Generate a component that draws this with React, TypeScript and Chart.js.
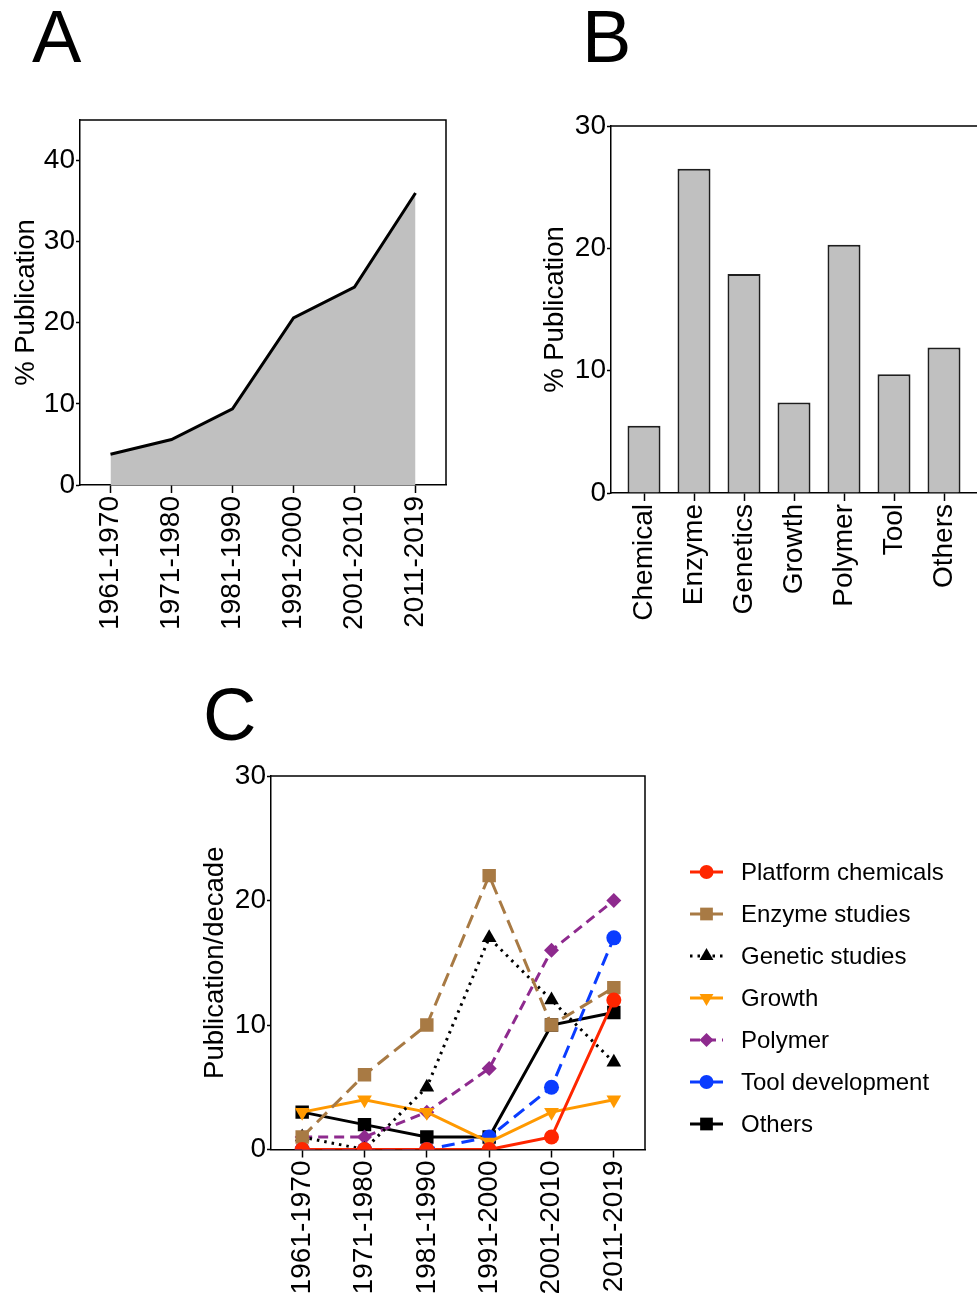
import React, { useEffect, useRef } from "react";
import { Chart, registerables } from "chart.js";

Chart.register(...registerables);

const FONT = "'Liberation Sans', Arial, Helvetica, sans-serif";

// Panel A: share of publications per decade (%)
const decades = ["1961-1970", "1971-1980", "1981-1990", "1991-2000", "2001-2010", "2011-2019"];
const sharePerDecade = [3.8, 5.6, 9.4, 20.6, 24.4, 36.0];

// Panel B: share of publications per topic (%)
const topics = ["Chemical", "Enzyme", "Genetics", "Growth", "Polymer", "Tool", "Others"];
const sharePerTopic = [5.5, 26.5, 17.9, 7.4, 20.3, 9.7, 11.9];

// Panel C: publications per decade, by topic
const platformChemicals = [0, 0, 0, 0, 1, 12];
const enzymeStudies = [1, 6, 10, 22, 10, 13];
const geneticStudies = [1, 0, 5, 17, 12, 7];
const growth = [3, 4, 3, 0.6, 3, 4];
const polymer = [1, 1, 3, 6.5, 16, 20];
const toolDevelopment = [0, 0, 0, 1, 5, 17];
const others = [3, 2, 1, 1, 10, 11];

const TICK_FONT = { size: 28, family: FONT };
const TITLE_FONT = { size: 27.5, family: FONT };

// Closes the plot area with a top and right edge.
const framePlugin = {
  id: "frame",
  afterDraw(chart: any) {
    const { ctx, chartArea } = chart;
    ctx.save();
    ctx.strokeStyle = "#000";
    ctx.lineWidth = 1.5;
    ctx.beginPath();
    ctx.moveTo(chartArea.left, chartArea.top);
    ctx.lineTo(chartArea.right, chartArea.top);
    ctx.lineTo(chartArea.right, chartArea.bottom);
    ctx.stroke();
    ctx.restore();
  },
};

function drawMarker(ctx: CanvasRenderingContext2D, style: string, x: number, y: number, r: number, rotation: number) {
  ctx.beginPath();
  if (style === "circle") {
    ctx.arc(x, y, r, 0, Math.PI * 2);
  } else if (style === "rect") {
    const s = r * Math.SQRT1_2;
    ctx.rect(x - s, y - s, 2 * s, 2 * s);
  } else if (style === "rectRot") {
    ctx.moveTo(x, y - r);
    ctx.lineTo(x + r, y);
    ctx.lineTo(x, y + r);
    ctx.lineTo(x - r, y);
    ctx.closePath();
  } else if (style === "triangle") {
    const dir = rotation === 180 ? -1 : 1;
    const w = r * Math.sin(Math.PI / 3);
    ctx.moveTo(x, y - dir * r);
    ctx.lineTo(x + w, y + dir * r * 0.5);
    ctx.lineTo(x - w, y + dir * r * 0.5);
    ctx.closePath();
  }
  ctx.fill();
}

// Legend with line samples that keep each series' dash pattern and marker.
const seriesLegendPlugin = {
  id: "seriesLegend",
  afterDraw(chart: any, _args: any, opts: any) {
    const { ctx } = chart;
    chart.data.datasets.forEach((ds: any, i: number) => {
      const cy = opts.y + i * opts.gap;
      ctx.save();
      ctx.strokeStyle = ds.borderColor;
      ctx.lineWidth = ds.borderWidth;
      ctx.lineCap = ds.borderCapStyle || "butt";
      ctx.setLineDash(ds.borderDash || []);
      ctx.beginPath();
      ctx.moveTo(opts.x, cy);
      ctx.lineTo(opts.x + opts.lineLength, cy);
      ctx.stroke();
      ctx.setLineDash([]);
      ctx.fillStyle = ds.pointBackgroundColor;
      drawMarker(ctx, ds.pointStyle, opts.x + opts.lineLength / 2, cy, ds.pointRadius - 0.5, ds.pointRotation || 0);
      ctx.fillStyle = "#000";
      ctx.font = `24px ${FONT}`;
      ctx.textBaseline = "middle";
      ctx.textAlign = "left";
      ctx.fillText(ds.label, opts.x + opts.textOffset, cy + 1);
      ctx.restore();
    });
  },
};

function valueAxis(title: string, max: number, width: number, titlePad: number) {
  return {
    min: 0,
    max,
    border: { display: true, color: "#000", width: 1.5 },
    grid: { drawOnChartArea: false, drawTicks: true, tickLength: 4, tickColor: "#000", tickWidth: 1.5 },
    ticks: { stepSize: 10, includeBounds: false, padding: 1, color: "#000", font: TICK_FONT },
    title: { display: true, text: title, color: "#000", font: TITLE_FONT, padding: { top: titlePad, bottom: 0 } },
    afterFit: (s: any) => {
      s.width = width;
    },
  };
}

function categoryAxisBase(height: number) {
  return {
    offset: true,
    border: { display: true, color: "#000", width: 1.5 },
    grid: { drawOnChartArea: false, drawTicks: true, tickLength: 8, tickColor: "#000", tickWidth: 1.5, offset: false },
    ticks: { autoSkip: false, minRotation: 90, maxRotation: 90, padding: 3, color: "#000", font: TICK_FONT },
    afterFit: (s: any) => {
      s.height = height;
    },
  };
}

const baseOptions = {
  responsive: false,
  animation: false as const,
  devicePixelRatio: 1,
  events: [] as any[],
};

function PanelA() {
  const ref = useRef<HTMLCanvasElement>(null);
  useEffect(() => {
    const chart = new Chart(ref.current!, {
      type: "line",
      data: {
        labels: decades,
        datasets: [
          {
            data: sharePerDecade,
            borderColor: "#000",
            borderWidth: 3,
            backgroundColor: "#c0c0c0",
            fill: "origin",
            pointRadius: 0,
            tension: 0,
          },
        ],
      },
      options: {
        ...baseOptions,
        layout: { padding: { top: 20, right: 24, left: 0, bottom: 0 } },
        plugins: { legend: { display: false }, tooltip: { enabled: false } },
        scales: {
          x: { type: "category", ...categoryAxisBase(155) },
          y: valueAxis("% Publication", 45, 80, 10),
        },
      },
      plugins: [framePlugin],
    } as any);
    return () => chart.destroy();
  }, []);
  return <canvas ref={ref} width={470} height={540} style={{ position: "absolute", left: 0, top: 100 }} />;
}

function PanelB() {
  const ref = useRef<HTMLCanvasElement>(null);
  useEffect(() => {
    const base: any = categoryAxisBase(147);
    const xAxis: any = {
      ...base,
      type: "linear",
      offset: false,
      min: -0.66,
      max: 6.7,
      ticks: { ...base.ticks, callback: (v: number) => topics[v] },
      afterBuildTicks: (s: any) => {
        s.ticks = topics.map((_, i) => ({ value: i }));
      },
    };
    const chart = new Chart(ref.current!, {
      type: "bar",
      data: {
        datasets: [
          {
            data: topics.map((_, i) => ({ x: i, y: sharePerTopic[i] })),
            backgroundColor: "#c0c0c0",
            borderColor: "#1e1e1e",
            borderWidth: 2,
            barPercentage: 0.66,
            categoryPercentage: 1,
          },
        ],
      },
      options: {
        ...baseOptions,
        layout: { padding: { top: 26, right: 10, left: 0, bottom: 0 } },
        plugins: { legend: { display: false }, tooltip: { enabled: false } },
        scales: {
          x: xAxis,
          y: valueAxis("% Publication", 30, 81, 9),
        },
      },
      plugins: [framePlugin],
    } as any);
    return () => chart.destroy();
  }, []);
  return <canvas ref={ref} width={459} height={540} style={{ position: "absolute", left: 530, top: 100 }} />;
}

function series(label: string, data: number[], color: string, pointStyle: string, radius: number, dash: number[], extra: any = {}) {
  return {
    label,
    data,
    borderColor: color,
    backgroundColor: color,
    pointBackgroundColor: color,
    pointBorderColor: color,
    pointBorderWidth: 0,
    pointStyle,
    pointRadius: radius,
    borderWidth: 3,
    borderDash: dash,
    fill: false,
    tension: 0,
    ...extra,
  };
}

function PanelC() {
  const ref = useRef<HTMLCanvasElement>(null);
  useEffect(() => {
    const chart = new Chart(ref.current!, {
      type: "line",
      data: {
        labels: decades,
        datasets: [
          series("Platform chemicals", platformChemicals, "#ff2600", "circle", 7.5, []),
          series("Enzyme studies", enzymeStudies, "#a87a44", "rect", 9.5, [14, 7]),
          series("Genetic studies", geneticStudies, "#000000", "triangle", 8.5, [2.5, 5]),
          series("Growth", growth, "#ff9900", "triangle", 8.5, [], { pointRotation: 180 }),
          series("Polymer", polymer, "#8e2a8e", "rectRot", 7.5, [10, 6]),
          series("Tool development", toolDevelopment, "#0a3cff", "circle", 7.5, [13, 7]),
          series("Others", others, "#000000", "rect", 9.5, []),
        ],
      },
      options: {
        ...baseOptions,
        layout: { padding: { top: 26, right: 332, left: 0, bottom: 0 } },
        plugins: {
          legend: { display: false },
          tooltip: { enabled: false },
          seriesLegend: { x: 500, y: 122, gap: 42, lineLength: 33, textOffset: 51 },
        },
        scales: {
          x: { type: "category", ...categoryAxisBase(150.5) },
          y: valueAxis("Publication/decade", 30, 81, 9),
        },
      },
      plugins: [framePlugin, seriesLegendPlugin],
    } as any);
    return () => chart.destroy();
  }, []);
  return <canvas ref={ref} width={787} height={550} style={{ position: "absolute", left: 190, top: 750 }} />;
}

const letterStyle = (left: number, top: number): React.CSSProperties => ({
  position: "absolute",
  left,
  top,
  fontFamily: FONT,
  fontSize: 74,
  lineHeight: 1,
  color: "#000",
});

export default function App() {
  return (
    <div
      style={{
        position: "absolute",
        left: 0,
        top: 0,
        width: 977,
        height: 1300,
        overflow: "hidden",
        background: "#fff",
      }}
    >
      <div style={letterStyle(32, 0)}>A</div>
      <div style={letterStyle(582, 0)}>B</div>
      <div style={letterStyle(203, 678)}>C</div>
      <PanelA />
      <PanelB />
      <PanelC />
    </div>
  );
}
